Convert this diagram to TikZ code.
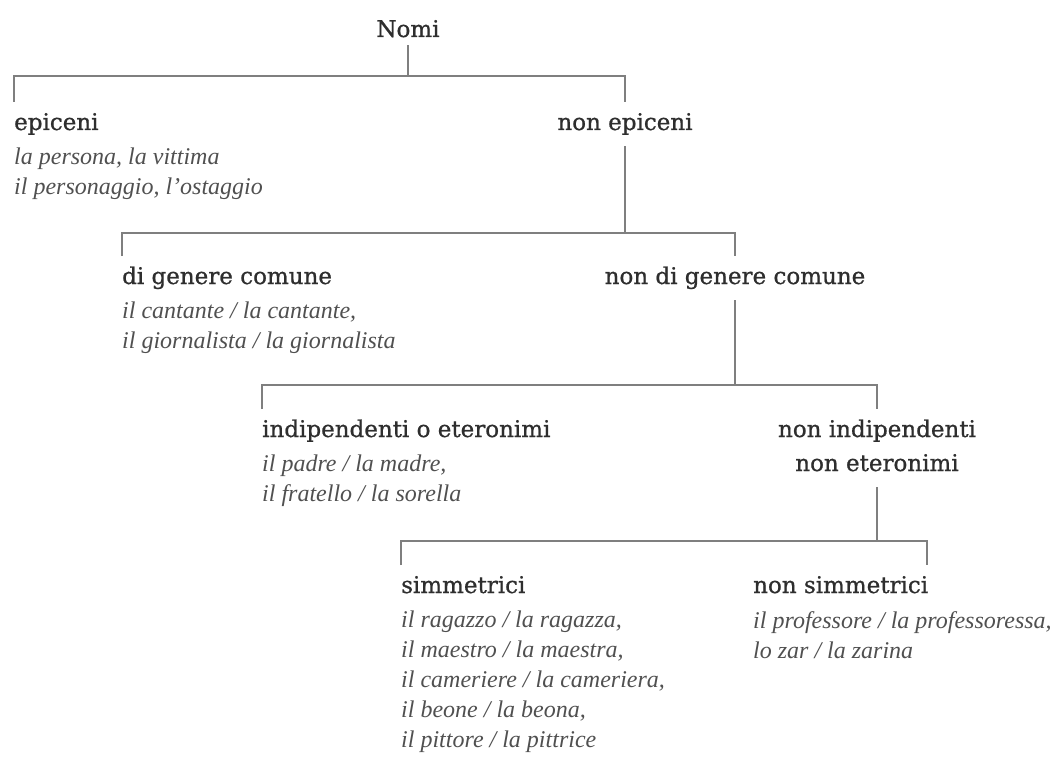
\documentclass[tikz,border=0pt]{standalone}
\usepackage{fontspec}
\usepackage{tikz}
\usetikzlibrary{positioning}
\newfontfamily\headfont[FakeBold=0.8]{DejaVu Serif}
\newfontfamily\exfont{Liberation Serif}
\definecolor{linegray}{HTML}{7F7F7F}
\definecolor{headgray}{HTML}{2E2E2E}
\definecolor{exgray}{HTML}{505050}

\begin{document}
\begin{tikzpicture}[
        x=1pt, y=-1pt,
        cat/.style={inner sep=0pt, outer ysep=10.5pt, text height=17.5pt, text depth=5.5pt, align=center, text=headgray, font=\headfont\fontsize{23}{34}\selectfont},
        examples/.style={inner sep=0pt, align=left, text=exgray, font=\exfont\itshape\fontsize{24}{30}\selectfont},
        branch/.style={draw=linegray, line width=1.8pt},
        ]
        \useasboundingbox (0,0) rectangle (1054,765);

        % Root
        \node[cat, outer ysep=3pt, anchor=base] (nomi) at (408,37) {Nomi};

        % Level 1
        \node[cat, anchor=base west] (epi) at (14,130) {epiceni};
        \node[cat, anchor=base] (nonepi) at (625,130) {non epiceni};
        \node[examples, below=2pt of epi.south west, anchor=north west] (epiEx) {la persona, la vittima\\il personaggio, l’ostaggio};

        % Level 2
        \node[cat, anchor=base west] (digen) at (122,284) {di genere comune};
        \node[cat, anchor=base] (nondigen) at (735,284) {non di genere comune};
        \node[examples, below=2pt of digen.south west, anchor=north west] (digenEx) {il cantante / la cantante,\\il giornalista / la giornalista};

        % Level 3
        \node[cat, anchor=base west] (indip) at (262,437) {indipendenti o eteronimi};
        \node[cat, anchor=base, text height=51.5pt] (nonind) at (877,471) {non indipendenti\\non eteronimi};
        \node[examples, below=2pt of indip.south west, anchor=north west] (indipEx) {il padre / la madre,\\il fratello / la sorella};

        % Level 4
        \node[cat, anchor=base west] (simm) at (401,593) {simmetrici};
        \node[cat, anchor=base west] (nonsimm) at (753,593) {non simmetrici};
        \node[examples, below=2pt of simm.south west, anchor=north west] (simmEx) {il ragazzo / la ragazza,\\il maestro / la maestra,\\il cameriere / la cameriera,\\il beone / la beona,\\il pittore / la pittrice};
        \node[examples, below=2pt of nonsimm.south west, anchor=north west] (nonsimmEx) {il professore / la professoressa,\\lo zar / la zarina};

        % Branches
        \coordinate (bar1) at (408,76);
        \coordinate (bar2) at (625,233);
        \coordinate (bar3) at (735,385);
        \coordinate (bar4) at (877,541);
        \coordinate (nonsimmTop) at (927,565);

        \draw[branch] (nomi.south) -- (bar1);
        \draw[branch] (epi.north west) |- (bar1) -| (nonepi.north);
        \draw[branch] (nonepi.south) -- (bar2);
        \draw[branch] (digen.north west) |- (bar2) -| (nondigen.north);
        \draw[branch] (nondigen.south) -- (bar3);
        \draw[branch] (indip.north west) |- (bar3) -| (nonind.north);
        \draw[branch] (nonind.south) -- (bar4);
        \draw[branch] (simm.north west) |- (bar4) -| (nonsimmTop);

    \end{tikzpicture}
\end{document}
